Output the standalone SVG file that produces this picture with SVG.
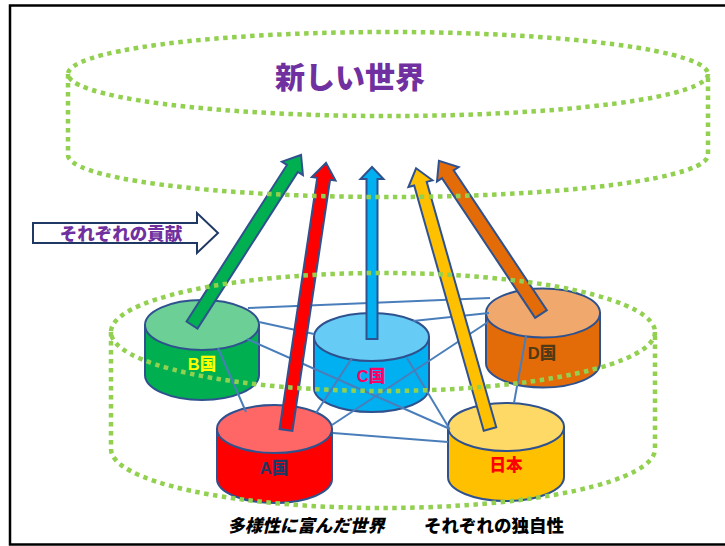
<svg xmlns="http://www.w3.org/2000/svg" width="725" height="546" viewBox="0 0 725 546">
<defs>
<style>
.frame{fill:none;stroke:#000;stroke-width:2.5}
.dot{fill:none;stroke:#92D050;stroke-width:4.5;stroke-dasharray:4.5 4.5}
.cyl{stroke:#2F528F;stroke-width:2}
.link{stroke:#4A7EBB;stroke-width:2;fill:none}
.arr{stroke:#2F528F;stroke-width:2;stroke-linejoin:miter}
.lbl{font-family:"Liberation Sans","Noto Sans CJK JP",sans-serif;font-weight:900;font-size:16.5px;text-anchor:middle}
.jp{font-family:"Noto Sans CJK JP","Liberation Sans",sans-serif;font-weight:900;text-anchor:middle}
</style>
</defs>
<rect x="10" y="5.5" width="730" height="539" fill="#fff" class="frame"/>

<g id="node-B">
<path class="cyl" fill="#00B050" d="M145 325 V375 A57 25 0 0 0 259 375 V325 Z"/>
<ellipse class="cyl" fill="#6CCF96" cx="202" cy="325" rx="57" ry="25"/>
<text class="lbl" x="202" y="370" fill="#FFFF00">B国</text>
</g>
<g id="node-C">
<path class="cyl" fill="#00B0F0" d="M314 337 V388 A57.5 24 0 0 0 429 388 V337 Z"/>
<ellipse class="cyl" fill="#66CCF5" cx="371.5" cy="337" rx="57.5" ry="24"/>
<text class="lbl" x="371" y="382" fill="#FF0066">C国</text>
</g>
<g id="node-D">
<path class="cyl" fill="#E36C09" d="M486 313 V363 A57 24.5 0 0 0 600 363 V313 Z"/>
<ellipse class="cyl" fill="#F0A86C" cx="543" cy="313" rx="57" ry="24.5"/>
<text class="lbl" x="542" y="359" fill="#4F3A14">D国</text>
</g>
<g id="node-A">
<path class="cyl" fill="#FF0000" d="M217 429 V479 A57.5 24 0 0 0 332 479 V429 Z"/>
<ellipse class="cyl" fill="#FF6666" cx="274.5" cy="429" rx="57.5" ry="24"/>
<text class="lbl" x="274" y="474" fill="#1F3864">A国</text>
</g>
<g id="node-JP">
<path class="cyl" fill="#FFC000" d="M448 427 V477 A58 24 0 0 0 564 477 V427 Z"/>
<ellipse class="cyl" fill="#FFD966" cx="506" cy="427" rx="58" ry="24"/>
<text class="jp" x="506" y="471" font-size="16.5" fill="#FF0000">日本</text>
</g>

<g id="connectors">
<line class="link" x1="248" y1="308" x2="490" y2="298"/>
<line class="link" x1="259" y1="322" x2="314" y2="334"/>
<line class="link" x1="247" y1="339" x2="450" y2="429"/>
<line class="link" x1="218" y1="348" x2="246" y2="412"/>
<line class="link" x1="352" y1="358" x2="316" y2="413"/>
<line class="link" x1="407" y1="358" x2="449" y2="428"/>
<line class="link" x1="413" y1="321" x2="489" y2="313"/>
<line class="link" x1="332" y1="425" x2="488" y2="322"/>
<line class="link" x1="333" y1="433" x2="448" y2="442"/>
<line class="link" x1="526" y1="336" x2="514" y2="403"/>
</g>

<g id="arrows">
<polygon class="arr" fill="#00B050" transform="translate(192,325) rotate(32.67)" points="-6.5,0 -6.5,-186 -12.5,-186 0,-202 12.5,-186 6.5,-186 6.5,0"/>
<polygon class="arr" fill="#FF0000" transform="translate(286,430) rotate(8.52)" points="-6.5,0 -6.5,-254 -12,-254 0,-270 12,-254 6.5,-254 6.5,0"/>
<polygon class="arr" fill="#00B0F0" transform="translate(372,339)" points="-5.5,0 -5.5,-160 -11.5,-160 0,-172 11.5,-160 5.5,-160 5.5,0"/>
<polygon class="arr" fill="#FFC000" transform="translate(490,429) rotate(-15.83)" points="-6.5,0 -6.5,-255 -12.5,-255 0,-271 12.5,-255 6.5,-255 6.5,0"/>
<polygon class="arr" fill="#E36C09" transform="translate(541,314) rotate(-33.69)" points="-7,0 -7,-168 -13,-168 0,-184 13,-168 7,-168 7,0"/>
</g>

<g id="world-new">
<ellipse class="dot" cx="388" cy="74" rx="320" ry="42"/>
<path class="dot" d="M68 74 V155 A320 42 0 0 0 708 155 V74"/>
<text class="jp" x="350" y="88" font-size="30" fill="#7030A0">新しい世界</text>
</g>

<g id="world-diverse">
<ellipse class="dot" cx="383" cy="332" rx="272" ry="59"/>
<path class="dot" d="M111 332 V449 A272 59 0 0 0 655 449 V332"/>
</g>

<g id="contribution">
<polygon points="33,223 197,223 197,213 218,233 197,253 197,243 33,243" fill="#fff" stroke="#1F3864" stroke-width="2"/>
<text class="jp" x="121" y="240" font-size="17.5" fill="#7030A0">それぞれの貢献</text>
</g>

<text class="jp" x="306" y="532" font-size="17.5" font-style="italic" fill="#000">多様性に富んだ世界</text>
<text class="jp" x="494" y="532" font-size="17.5" fill="#000">それぞれの独自性</text>
</svg>
